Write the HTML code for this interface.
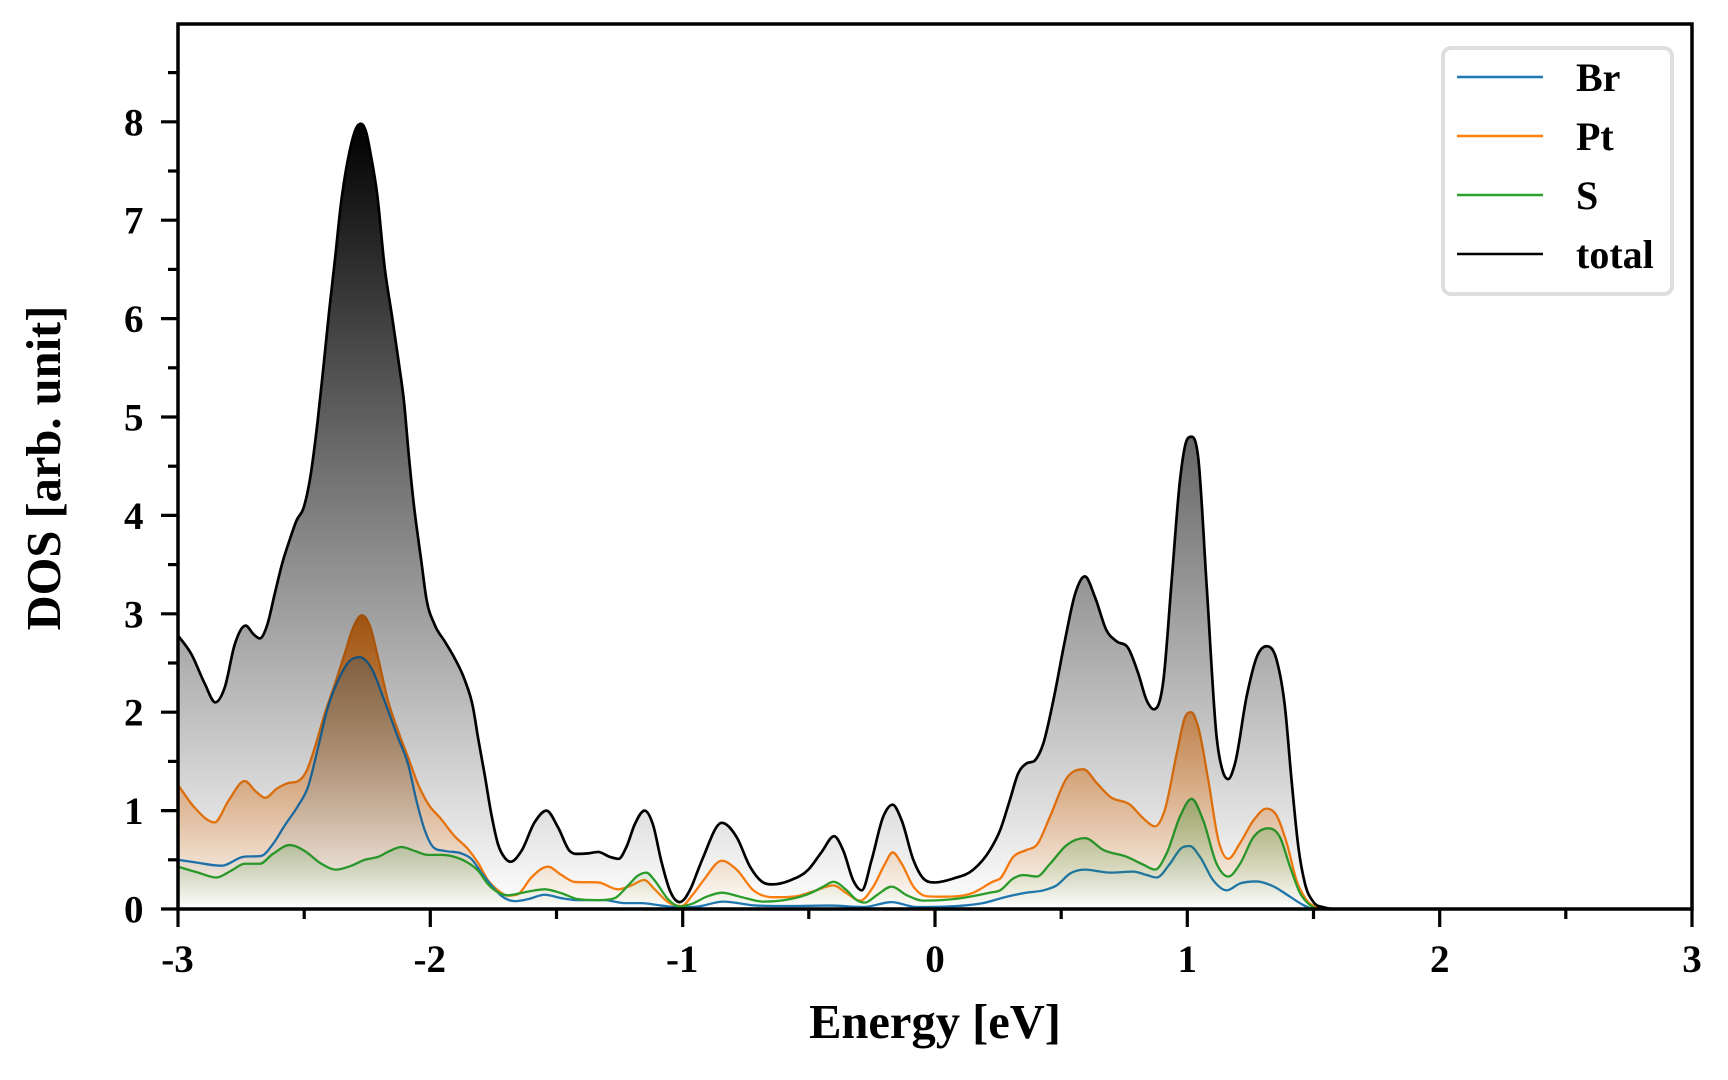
<!DOCTYPE html>
<html>
<head>
<meta charset="utf-8">
<style>
  html, body { margin: 0; padding: 0; background: #ffffff; }
  body { width: 1728px; height: 1080px; overflow: hidden; }
  svg { display: block; }
  text { font-family: "Liberation Serif", "DejaVu Serif", serif; font-weight: bold; fill: #000; }
</style>
</head>
<body>
<svg id="c" width="1728" height="1080" viewBox="0 0 1728 1080" xmlns="http://www.w3.org/2000/svg">
  <defs>
    <clipPath id="clip"><rect x="178" y="24" width="1514" height="885"/></clipPath>
    <linearGradient id="gP" gradientUnits="userSpaceOnUse" x1="0" y1="615.3" x2="0" y2="909">
      <stop offset="0" stop-color="#ff7f0e" stop-opacity="0.95"/>
      <stop offset="1" stop-color="#ff7f0e" stop-opacity="0"/>
    </linearGradient>
    <linearGradient id="gB" gradientUnits="userSpaceOnUse" x1="0" y1="657.1" x2="0" y2="909">
      <stop offset="0" stop-color="#1f77b4" stop-opacity="0.3"/>
      <stop offset="1" stop-color="#1f77b4" stop-opacity="0"/>
    </linearGradient>
    <linearGradient id="gS" gradientUnits="userSpaceOnUse" x1="0" y1="798.8" x2="0" y2="909">
      <stop offset="0" stop-color="#2ca02c" stop-opacity="0.35"/>
      <stop offset="1" stop-color="#2ca02c" stop-opacity="0"/>
    </linearGradient>
    <linearGradient id="gT" gradientUnits="userSpaceOnUse" x1="0" y1="123.8" x2="0" y2="909">
      <stop offset="0" stop-color="#000000" stop-opacity="1"/>
      <stop offset="1" stop-color="#000000" stop-opacity="0"/>
    </linearGradient>
  </defs>

  <g id="plot" clip-path="url(#clip)"></g>

  <!-- spines -->
  <g stroke="#000" stroke-width="3.5" fill="none" stroke-linecap="square">
    <rect x="178" y="24" width="1514" height="885"/>
  </g>

  <!-- x ticks -->
  <g stroke="#000" stroke-width="3.2">
    <line x1="178" y1="909" x2="178" y2="927"/>
    <line x1="430.3" y1="909" x2="430.3" y2="927"/>
    <line x1="682.7" y1="909" x2="682.7" y2="927"/>
    <line x1="935" y1="909" x2="935" y2="927"/>
    <line x1="1187.3" y1="909" x2="1187.3" y2="927"/>
    <line x1="1439.7" y1="909" x2="1439.7" y2="927"/>
    <line x1="1692" y1="909" x2="1692" y2="927"/>
    <line x1="304.2" y1="909" x2="304.2" y2="919"/>
    <line x1="556.5" y1="909" x2="556.5" y2="919"/>
    <line x1="808.8" y1="909" x2="808.8" y2="919"/>
    <line x1="1061.2" y1="909" x2="1061.2" y2="919"/>
    <line x1="1313.5" y1="909" x2="1313.5" y2="919"/>
    <line x1="1565.8" y1="909" x2="1565.8" y2="919"/>
  </g>

  <!-- y ticks -->
  <g stroke="#000" stroke-width="3.2">
    <line x1="161" y1="909" x2="178" y2="909"/>
    <line x1="161" y1="810.6" x2="178" y2="810.6"/>
    <line x1="161" y1="712.2" x2="178" y2="712.2"/>
    <line x1="161" y1="613.8" x2="178" y2="613.8"/>
    <line x1="161" y1="515.4" x2="178" y2="515.4"/>
    <line x1="161" y1="417" x2="178" y2="417"/>
    <line x1="161" y1="318.6" x2="178" y2="318.6"/>
    <line x1="161" y1="220.2" x2="178" y2="220.2"/>
    <line x1="161" y1="121.8" x2="178" y2="121.8"/>
    <line x1="168" y1="859.8" x2="178" y2="859.8"/>
    <line x1="168" y1="761.4" x2="178" y2="761.4"/>
    <line x1="168" y1="663" x2="178" y2="663"/>
    <line x1="168" y1="564.6" x2="178" y2="564.6"/>
    <line x1="168" y1="466.2" x2="178" y2="466.2"/>
    <line x1="168" y1="367.8" x2="178" y2="367.8"/>
    <line x1="168" y1="269.4" x2="178" y2="269.4"/>
    <line x1="168" y1="171" x2="178" y2="171"/>
    <line x1="168" y1="72.6" x2="178" y2="72.6"/>
  </g>

  <!-- y tick labels -->
  <g font-size="39" text-anchor="end">
    <text x="143.5" y="922.5">0</text>
    <text x="143.5" y="824.1">1</text>
    <text x="143.5" y="725.7">2</text>
    <text x="143.5" y="627.3">3</text>
    <text x="143.5" y="528.9">4</text>
    <text x="143.5" y="430.5">5</text>
    <text x="143.5" y="332.1">6</text>
    <text x="143.5" y="233.7">7</text>
    <text x="143.5" y="135.3">8</text>
  </g>

  <!-- x tick labels -->
  <g font-size="39" text-anchor="middle">
    <text x="177.5" y="972">-3</text>
    <text x="429.8" y="972">-2</text>
    <text x="682.2" y="972">-1</text>
    <text x="935" y="972">0</text>
    <text x="1187.3" y="972">1</text>
    <text x="1439.7" y="972">2</text>
    <text x="1692" y="972">3</text>
  </g>

  <!-- axis labels -->
  <text x="935" y="1038" font-size="48.5" text-anchor="middle">Energy [eV]</text>
  <text transform="translate(60,468) rotate(-90)" font-size="48.5" text-anchor="middle">DOS [arb. unit]</text>

  <!-- legend -->
  <rect x="1443" y="48" width="229" height="246" rx="8" ry="8" fill="#ffffff" fill-opacity="0.9" stroke="#dedede" stroke-width="4"/>
  <g stroke-width="2.6">
    <line x1="1457" y1="77" x2="1543" y2="77" stroke="#1f77b4"/>
    <line x1="1457" y1="136" x2="1543" y2="136" stroke="#ff7f0e"/>
    <line x1="1457" y1="195" x2="1543" y2="195" stroke="#2ca02c"/>
    <line x1="1457" y1="254" x2="1543" y2="254" stroke="#000000"/>
  </g>
  <g font-size="40">
    <text x="1576" y="91">Br</text>
    <text x="1576" y="150">Pt</text>
    <text x="1576" y="209">S</text>
    <text x="1576" y="268">total</text>
  </g>
</svg>

<script>
(function(){
  var X = function(x){ return 935 + x*252.33; };
  var Y = function(y){ return 909 - y*98.4; };

  var T = [[-3,2.78],[-2.947,2.59],[-2.894,2.29],[-2.852,2.10],[-2.815,2.25],[-2.775,2.69],[-2.732,2.88],[-2.70,2.79],[-2.676,2.75],[-2.646,2.89],[-2.617,3.20],[-2.584,3.54],[-2.559,3.74],[-2.53,3.95],[-2.502,4.08],[-2.475,4.4],[-2.447,4.95],[-2.424,5.5],[-2.40,6.1],[-2.378,6.6],[-2.355,7.15],[-2.32,7.7],[-2.295,7.93],[-2.275,7.98],[-2.255,7.9],[-2.235,7.65],[-2.211,7.27],[-2.181,6.52],[-2.151,6.01],[-2.125,5.55],[-2.105,5.17],[-2.085,4.6],[-2.065,4.1],[-2.05,3.8],[-2.036,3.54],[-2.016,3.16],[-1.983,2.89],[-1.943,2.72],[-1.904,2.55],[-1.864,2.33],[-1.831,2.05],[-1.811,1.74],[-1.785,1.37],[-1.758,0.96],[-1.732,0.66],[-1.705,0.52],[-1.682,0.48],[-1.639,0.59],[-1.587,0.88],[-1.540,1.0],[-1.494,0.83],[-1.448,0.59],[-1.415,0.56],[-1.375,0.565],[-1.335,0.58],[-1.289,0.53],[-1.254,0.51],[-1.223,0.63],[-1.19,0.86],[-1.151,1.0],[-1.118,0.86],[-1.085,0.49],[-1.051,0.19],[-1.012,0.07],[-0.966,0.22],[-0.94,0.39],[-0.918,0.53],[-0.845,0.876],[-0.786,0.73],[-0.733,0.43],[-0.687,0.28],[-0.647,0.25],[-0.575,0.29],[-0.502,0.40],[-0.449,0.58],[-0.40,0.74],[-0.363,0.59],[-0.324,0.29],[-0.29,0.19],[-0.251,0.50],[-0.205,0.94],[-0.168,1.06],[-0.132,0.90],[-0.086,0.50],[-0.046,0.31],[0,0.27],[0.073,0.31],[0.152,0.40],[0.218,0.60],[0.258,0.80],[0.297,1.11],[0.33,1.38],[0.363,1.48],[0.396,1.51],[0.429,1.68],[0.469,2.12],[0.515,2.73],[0.555,3.20],[0.594,3.38],[0.634,3.17],[0.68,2.83],[0.72,2.72],[0.766,2.65],[0.806,2.39],[0.839,2.12],[0.868,2.03],[0.905,2.32],[0.938,3.34],[0.971,4.36],[0.997,4.76],[1.017,4.80],[1.043,4.59],[1.077,3.27],[1.116,1.75],[1.143,1.38],[1.162,1.32],[1.189,1.48],[1.235,2.16],[1.275,2.56],[1.314,2.67],[1.354,2.53],[1.387,2.05],[1.413,1.31],[1.44,0.63],[1.466,0.26],[1.50,0.07],[1.54,0.017],[1.58,0],[2.2,0],[3,0]];

  var P = [[-3,1.26],[-2.934,1.03],[-2.855,0.88],[-2.80,1.10],[-2.736,1.30],[-2.69,1.19],[-2.654,1.13],[-2.61,1.22],[-2.564,1.28],[-2.524,1.30],[-2.491,1.40],[-2.458,1.64],[-2.419,1.98],[-2.379,2.28],[-2.34,2.59],[-2.306,2.86],[-2.271,2.985],[-2.24,2.88],[-2.207,2.55],[-2.168,2.12],[-2.128,1.81],[-2.088,1.54],[-2.049,1.27],[-2.009,1.07],[-1.956,0.91],[-1.904,0.74],[-1.851,0.61],[-1.811,0.47],[-1.771,0.29],[-1.732,0.19],[-1.692,0.135],[-1.653,0.15],[-1.60,0.32],[-1.534,0.43],[-1.48,0.345],[-1.428,0.275],[-1.335,0.27],[-1.256,0.20],[-1.203,0.24],[-1.153,0.295],[-1.111,0.20],[-1.058,0.07],[-1.005,0.03],[-0.959,0.15],[-0.918,0.29],[-0.845,0.49],[-0.786,0.40],[-0.72,0.19],[-0.64,0.12],[-0.548,0.13],[-0.482,0.18],[-0.403,0.24],[-0.35,0.16],[-0.297,0.085],[-0.244,0.23],[-0.198,0.46],[-0.168,0.575],[-0.132,0.46],[-0.086,0.23],[-0.033,0.13],[0.033,0.125],[0.152,0.166],[0.231,0.28],[0.258,0.31],[0.31,0.53],[0.363,0.60],[0.403,0.65],[0.456,0.94],[0.522,1.33],[0.588,1.42],[0.641,1.28],[0.694,1.14],[0.773,1.06],[0.826,0.92],[0.872,0.84],[0.91,1.0],[0.958,1.58],[0.991,1.95],[1.015,2.0],[1.043,1.85],[1.083,1.31],[1.123,0.70],[1.162,0.51],[1.209,0.67],[1.262,0.90],[1.314,1.02],[1.354,0.95],[1.394,0.67],[1.433,0.29],[1.473,0.09],[1.513,0.017],[1.56,0],[2.2,0],[3,0]];

  var B = [[-3,0.50],[-2.934,0.475],[-2.828,0.44],[-2.742,0.53],[-2.67,0.54],[-2.624,0.66],[-2.577,0.85],[-2.524,1.05],[-2.485,1.24],[-2.445,1.64],[-2.406,2.05],[-2.366,2.32],[-2.32,2.52],[-2.28,2.56],[-2.234,2.45],[-2.181,2.11],[-2.128,1.74],[-2.088,1.47],[-2.055,1.10],[-2.022,0.80],[-1.989,0.63],[-1.943,0.59],[-1.877,0.565],[-1.838,0.51],[-1.798,0.37],[-1.758,0.24],[-1.719,0.135],[-1.666,0.08],[-1.613,0.10],[-1.547,0.145],[-1.48,0.11],[-1.415,0.09],[-1.309,0.09],[-1.23,0.06],[-1.164,0.06],[-1.085,0.035],[-1.005,0.015],[-0.94,0.025],[-0.839,0.075],[-0.707,0.035],[-0.575,0.03],[-0.416,0.035],[-0.284,0.02],[-0.172,0.07],[-0.073,0.02],[0.086,0.03],[0.19,0.06],[0.284,0.125],[0.363,0.166],[0.43,0.19],[0.482,0.24],[0.535,0.36],[0.594,0.40],[0.694,0.37],[0.786,0.38],[0.839,0.345],[0.878,0.32],[0.931,0.46],[0.977,0.62],[1.01,0.64],[1.05,0.53],[1.103,0.29],[1.156,0.19],[1.209,0.26],[1.275,0.28],[1.341,0.23],[1.407,0.125],[1.46,0.04],[1.5,0],[2.2,0],[3,0]];

  var S = [[-3,0.43],[-2.92,0.37],[-2.848,0.32],[-2.789,0.39],[-2.736,0.46],[-2.676,0.46],[-2.624,0.56],[-2.557,0.65],[-2.498,0.59],[-2.432,0.46],[-2.373,0.40],[-2.313,0.44],[-2.26,0.50],[-2.207,0.53],[-2.161,0.59],[-2.115,0.63],[-2.062,0.59],[-2.009,0.55],[-1.956,0.55],[-1.904,0.53],[-1.851,0.47],[-1.811,0.39],[-1.771,0.25],[-1.732,0.17],[-1.692,0.14],[-1.626,0.17],[-1.547,0.20],[-1.48,0.16],[-1.415,0.10],[-1.335,0.09],[-1.27,0.11],[-1.216,0.24],[-1.177,0.34],[-1.144,0.37],[-1.111,0.29],[-1.058,0.10],[-1.012,0.025],[-0.966,0.05],[-0.905,0.125],[-0.845,0.166],[-0.773,0.125],[-0.68,0.075],[-0.575,0.10],[-0.495,0.16],[-0.443,0.227],[-0.403,0.277],[-0.35,0.19],[-0.31,0.09],[-0.277,0.065],[-0.231,0.14],[-0.172,0.227],[-0.112,0.14],[-0.046,0.085],[0.073,0.10],[0.218,0.166],[0.258,0.19],[0.31,0.31],[0.35,0.345],[0.403,0.33],[0.456,0.46],[0.522,0.65],[0.594,0.72],[0.667,0.60],[0.76,0.53],[0.826,0.45],[0.872,0.40],[0.918,0.565],[0.971,0.94],[1.017,1.12],[1.063,0.90],[1.116,0.46],[1.162,0.33],[1.209,0.46],[1.262,0.73],[1.321,0.82],[1.367,0.73],[1.407,0.43],[1.447,0.16],[1.486,0.04],[1.526,0],[2.2,0],[3,0]];

  function smooth(data){
    var p = data.map(function(d){ return [X(d[0]), Y(d[1])]; });
    var n = p.length, h = [], s = [], m = new Array(n), i;
    for (i = 0; i < n-1; i++){ h[i] = p[i+1][0]-p[i][0]; s[i] = (p[i+1][1]-p[i][1])/h[i]; }
    m[0] = s[0]; m[n-1] = s[n-2];
    for (i = 1; i < n-1; i++){
      if (s[i-1]*s[i] <= 0) m[i] = 0;
      else {
        var pp = (s[i-1]*h[i] + s[i]*h[i-1])/(h[i-1]+h[i]);
        var lim = 3*Math.min(Math.abs(s[i-1]), Math.abs(s[i]));
        m[i] = Math.sign(pp) * Math.min(Math.abs(pp), lim);
      }
    }
    var d = 'M' + p[0][0].toFixed(2) + ',' + p[0][1].toFixed(2);
    for (i = 0; i < n-1; i++){
      var dx = h[i]/3;
      var c1y = p[i][1]+m[i]*dx, c2y = p[i+1][1]-m[i+1]*dx;
      if (c1y > 909) c1y = 909; if (c2y > 909) c2y = 909;
      d += 'C' + (p[i][0]+dx).toFixed(2) + ',' + c1y.toFixed(2) + ' ' +
           (p[i+1][0]-dx).toFixed(2) + ',' + c2y.toFixed(2) + ' ' +
           p[i+1][0].toFixed(2) + ',' + p[i+1][1].toFixed(2);
    }
    return d;
  }

  var NS = 'http://www.w3.org/2000/svg';
  var g = document.getElementById('plot');
  function add(data, grad, color, w){
    var d = smooth(data);
    var f = document.createElementNS(NS, 'path');
    f.setAttribute('d', d + ' L' + X(3).toFixed(2) + ',909 L' + X(-3).toFixed(2) + ',909 Z');
    f.setAttribute('fill', 'url(#' + grad + ')');
    f.setAttribute('stroke', 'none');
    g.appendChild(f);
    var l = document.createElementNS(NS, 'path');
    l.setAttribute('d', d);
    l.setAttribute('fill', 'none');
    l.setAttribute('stroke', color);
    l.setAttribute('stroke-width', w);
    l.setAttribute('stroke-linejoin', 'round');
    l.setAttribute('stroke-linecap', 'round');
    g.appendChild(l);
  }
  add(P, 'gP', '#ff7f0e', 2.3);
  add(B, 'gB', '#1f77b4', 2.3);
  add(S, 'gS', '#2ca02c', 2.3);
  add(T, 'gT', '#000000', 2.7);
})();
</script>
</body>
</html>
